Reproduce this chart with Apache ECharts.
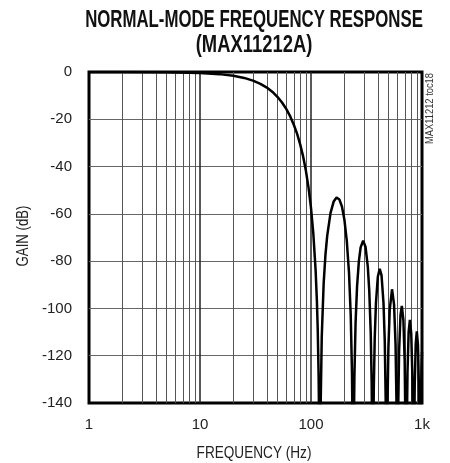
<!DOCTYPE html>
<html>
<head>
<meta charset="utf-8">
<title>Normal-mode frequency response</title>
<style>
  * { margin: 0; padding: 0; }
  #chart { width: 450px; height: 463px; background: #fff; }
</style>
</head>
<body>
<div id="chart"></div>
<script src="https://cdn.jsdelivr.net/npm/echarts@6/dist/echarts.min.js"></script>
<script>
// frequencies (Hz) and gain (dB); nulls go below the plot floor
const freqHz = [
  1, 2, 5, 10, 15, 20, 25, 30, 35, 40, 45, 50, 55, 60, 65, 70, 75, 80, 85, 90, 95, 100,
  105, 110, 113, 115, 117, 118, 120,
  122, 125, 130, 135, 140, 150, 160, 170, 180, 190, 200, 210, 220, 228, 234, 237, 240,
  243, 246, 252, 260, 270, 280, 295, 310, 325, 335, 345, 352, 356, 360,
  364, 368, 375, 385, 400, 416, 432, 450, 462, 472, 480,
  488, 498, 512, 537, 560, 578, 590, 600,
  610, 622, 640, 658, 680, 698, 712, 720,
  728, 740, 758, 778, 800, 818, 832, 840,
  848, 860, 878, 898, 920, 940, 952, 960,
  968, 980, 990, 1000
];
const gainDb = [
  0, -0.02, -0.1, -0.4, -0.9, -1.6, -2.5, -3.65, -5.0, -6.6, -8.45, -10.6, -13.0, -15.7, -18.8, -22.3, -26.2, -30.7, -35.8, -41.8, -48.9, -57.5,
  -68.5, -83.7, -96.8, -109, -127.3, -141.7, -180,
  -142.8, -111.9, -89.5, -77.2, -69.2, -59.6, -54.8, -53.1, -53.9, -56.9, -62.5, -71.3, -84.9, -102.9, -127.4, -151.8, -180,
  -152.7, -129.2, -106.3, -90.7, -80.0, -74.2, -71.3, -74.0, -82.4, -92.7, -109.8, -131.7, -156, -180,
  -156.8, -133.3, -112.7, -97.5, -86.6, -83.2, -86.0, -97.7, -114.0, -141.9, -180,
  -143.1, -116.7, -100.5, -91.9, -98.3, -115.5, -142.1, -180,
  -143.2, -118.0, -102.9, -98.9, -105.0, -122.1, -156.2, -180,
  -157, -127.1, -109.9, -104.8, -110.7, -127.6, -161.6, -180,
  -162.3, -132.3, -115.0, -109.7, -115.5, -135.4, -166.3, -180,
  -166.9, -136.8, -125.1, -118.4
];
const minorGridHz = [2, 3, 4, 5, 6, 7, 8, 9, 20, 30, 40, 50, 60, 70, 80, 90, 200, 300, 400, 500, 600, 700, 800, 900];

const font = '"Liberation Sans", Arial, sans-serif';
const chart = echarts.init(document.getElementById('chart'), null, { renderer: 'canvas' });

// the original uses a condensed face, so text is squeezed horizontally
const squeezed = (text, x, y, size, scale, extra) => Object.assign({
  type: 'text', x: x, y: y, scaleX: scale, silent: true,
  style: { text: text, fontFamily: font, fontSize: size, fill: '#222', align: 'center', verticalAlign: 'middle' }
}, extra || {});

const title1 = squeezed('NORMAL-MODE FREQUENCY RESPONSE', 254, 21, 23, 0.73);
title1.style.fontWeight = 'bold';
title1.style.fill = '#111';
const title2 = squeezed('(MAX11212A)', 254, 46, 23, 0.8);
title2.style.fontWeight = 'bold';
title2.style.fill = '#111';

chart.setOption({
  animation: false,
  grid: {
    left: 89, right: 28, top: 72, bottom: 60,
    show: true,
    borderColor: '#000',
    borderWidth: 3
  },
  xAxis: {
    type: 'log',
    logBase: 10,
    min: 1,
    max: 1000,
    axisLine: { show: false },
    axisTick: { show: false },
    axisLabel: {
      fontFamily: font, fontSize: 15, color: '#222', margin: 14,
      formatter: v => v >= 1000 ? (v / 1000) + 'k' : String(v)
    },
    splitLine: { show: true, showMinLine: false, showMaxLine: false, lineStyle: { color: '#222', width: 1.5 } }
  },
  yAxis: {
    type: 'value',
    min: -140,
    max: 0,
    interval: 20,
    axisLine: { show: false },
    axisTick: { show: false },
    axisLabel: { fontFamily: font, fontSize: 15, color: '#222', margin: 17 },
    splitLine: { show: true, showMinLine: false, showMaxLine: false, lineStyle: { color: '#666', width: 1 } }
  },
  graphic: [
    title1,
    title2,
    squeezed('FREQUENCY (Hz)', 254, 453, 17, 0.8),
    squeezed('GAIN (dB)', 23, 236, 16.5, 0.8, { rotation: Math.PI / 2 }),
    {
      type: 'text',
      x: 430, y: 73,
      rotation: Math.PI / 2,
      silent: true,
      style: { text: 'MAX11212 toc18', fontFamily: font, fontSize: 11, fill: '#333', align: 'right', verticalAlign: 'middle' },
      scaleX: 0.85
    }
  ],
  series: [
    {
      // minor vertical grid lines (2..9 of each decade)
      type: 'line',
      data: [],
      z: 1,
      markLine: {
        silent: true,
        symbol: 'none',
        label: { show: false },
        lineStyle: { color: '#555', width: 1, type: 'solid' },
        data: minorGridHz.map(v => ({ xAxis: v }))
      }
    },
    {
      type: 'line',
      z: 5,
      data: freqHz.map((f, i) => [f, gainDb[i]]),
      showSymbol: false,
      clip: true,
      lineStyle: { color: '#000', width: 2.5 }
    }
  ]
});
</script>
</body>
</html>
